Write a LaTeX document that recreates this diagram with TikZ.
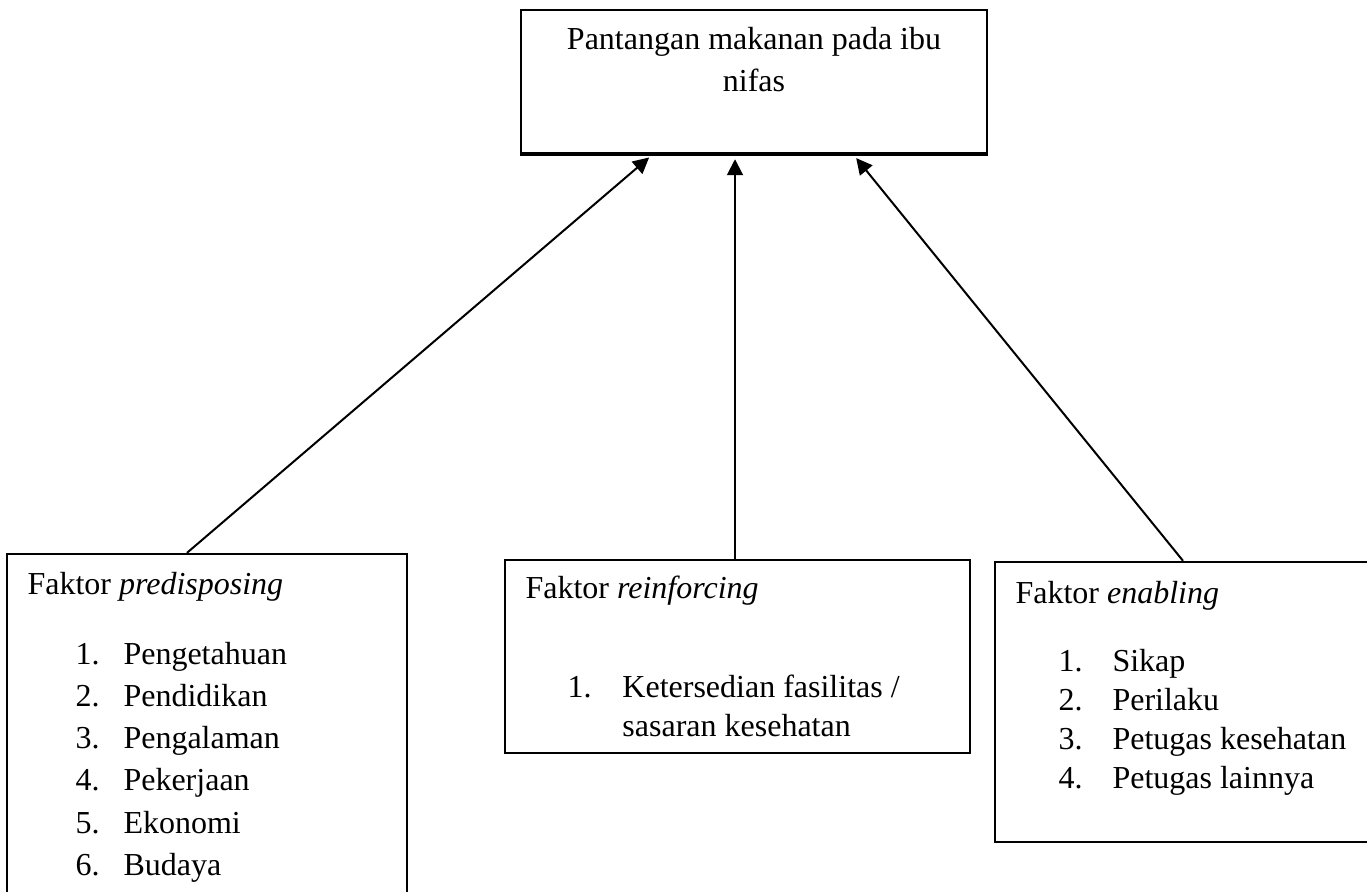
\documentclass[tikz,border=0pt]{standalone}
\usepackage{fontspec}
\setmainfont{Liberation Serif}
\usetikzlibrary{arrows.meta,calc}
\newcommand{\numlabel}[2]{\makebox[#1][l]{#2}}

\begin{document}
\begin{tikzpicture}[
    x=0.375pt, y=-0.375pt,
    box/.style={draw, rectangle, line width=0.9pt, inner sep=0pt},
    txt/.style={anchor=base west, align=left, inner sep=0pt, font=\fontsize{12}{15.75}\selectfont},
    arrow/.style={-{Triangle[length=6pt,width=6pt]}, line width=0.75pt, shorten >=1.9pt}
]
    \useasboundingbox (0,0) rectangle (1367,892);

    % Top box
    \node[box, minimum width=174.75pt, minimum height=53.6pt] (food) at (754,81.5) {};
    \draw[line width=1.7pt] (food.south west) -- (food.south east);
    % (base of a multi-line node = last line)
    \node[txt, anchor=base, align=center] (foodtext) at (754,91) {Pantangan makanan pada ibu\\nifas};

    % Factor boxes
    \node[box, minimum width=150pt, minimum height=131.6pt] (pre) at (207,729.5) {};
    \node[box, minimum width=174.4pt, minimum height=72.4pt] (rein) at (737.5,656.5) {};
    \node[box, minimum width=142.5pt, minimum height=105pt] (enab) at (1185,702) {};

    % Predisposing
    \node[txt] (pretitle) at (27,594) {Faktor \textit{predisposing}};
    \node[txt, font=\fontsize{12}{15.86}\selectfont] (prelist) at (75,875.5) {\numlabel{18pt}{1.}Pengetahuan\\
        \numlabel{18pt}{2.}Pendidikan\\
        \numlabel{18pt}{3.}Pengalaman\\
        \numlabel{18pt}{4.}Pekerjaan\\
        \numlabel{18pt}{5.}Ekonomi\\
        \numlabel{18pt}{6.}Budaya};

    % Reinforcing
    \node[txt] (reintitle) at (525,598) {Faktor \textit{reinforcing}};
    \node[txt, font=\fontsize{12}{14.6}\selectfont] (reinlist) at (567,736) {\numlabel{20.6pt}{1.}Ketersedian fasilitas /\\
        \hspace*{20.6pt}sasaran kesehatan};

    % Enabling
    \node[txt] (enabtitle) at (1015,603) {Faktor \textit{enabling}};
    \node[txt, font=\fontsize{12}{14.6}\selectfont] (enablist) at (1058,788.7) {\numlabel{20.25pt}{1.}Sikap\\
        \numlabel{20.25pt}{2.}Perilaku\\
        \numlabel{20.25pt}{3.}Petugas kesehatan\\
        \numlabel{20.25pt}{4.}Petugas lainnya};

    % Arrows
    \draw[arrow] ($(pre.north)+(-20,0)$) -- ($(food.south)+(-101,0)$);
    \draw[arrow] ($(rein.north)+(-2.5,0)$) -- ($(food.south)+(-19,0)$);
    \draw[arrow] ($(enab.north)+(-2,0)$) -- ($(food.south)+(99,0)$);
\end{tikzpicture}
\end{document}
